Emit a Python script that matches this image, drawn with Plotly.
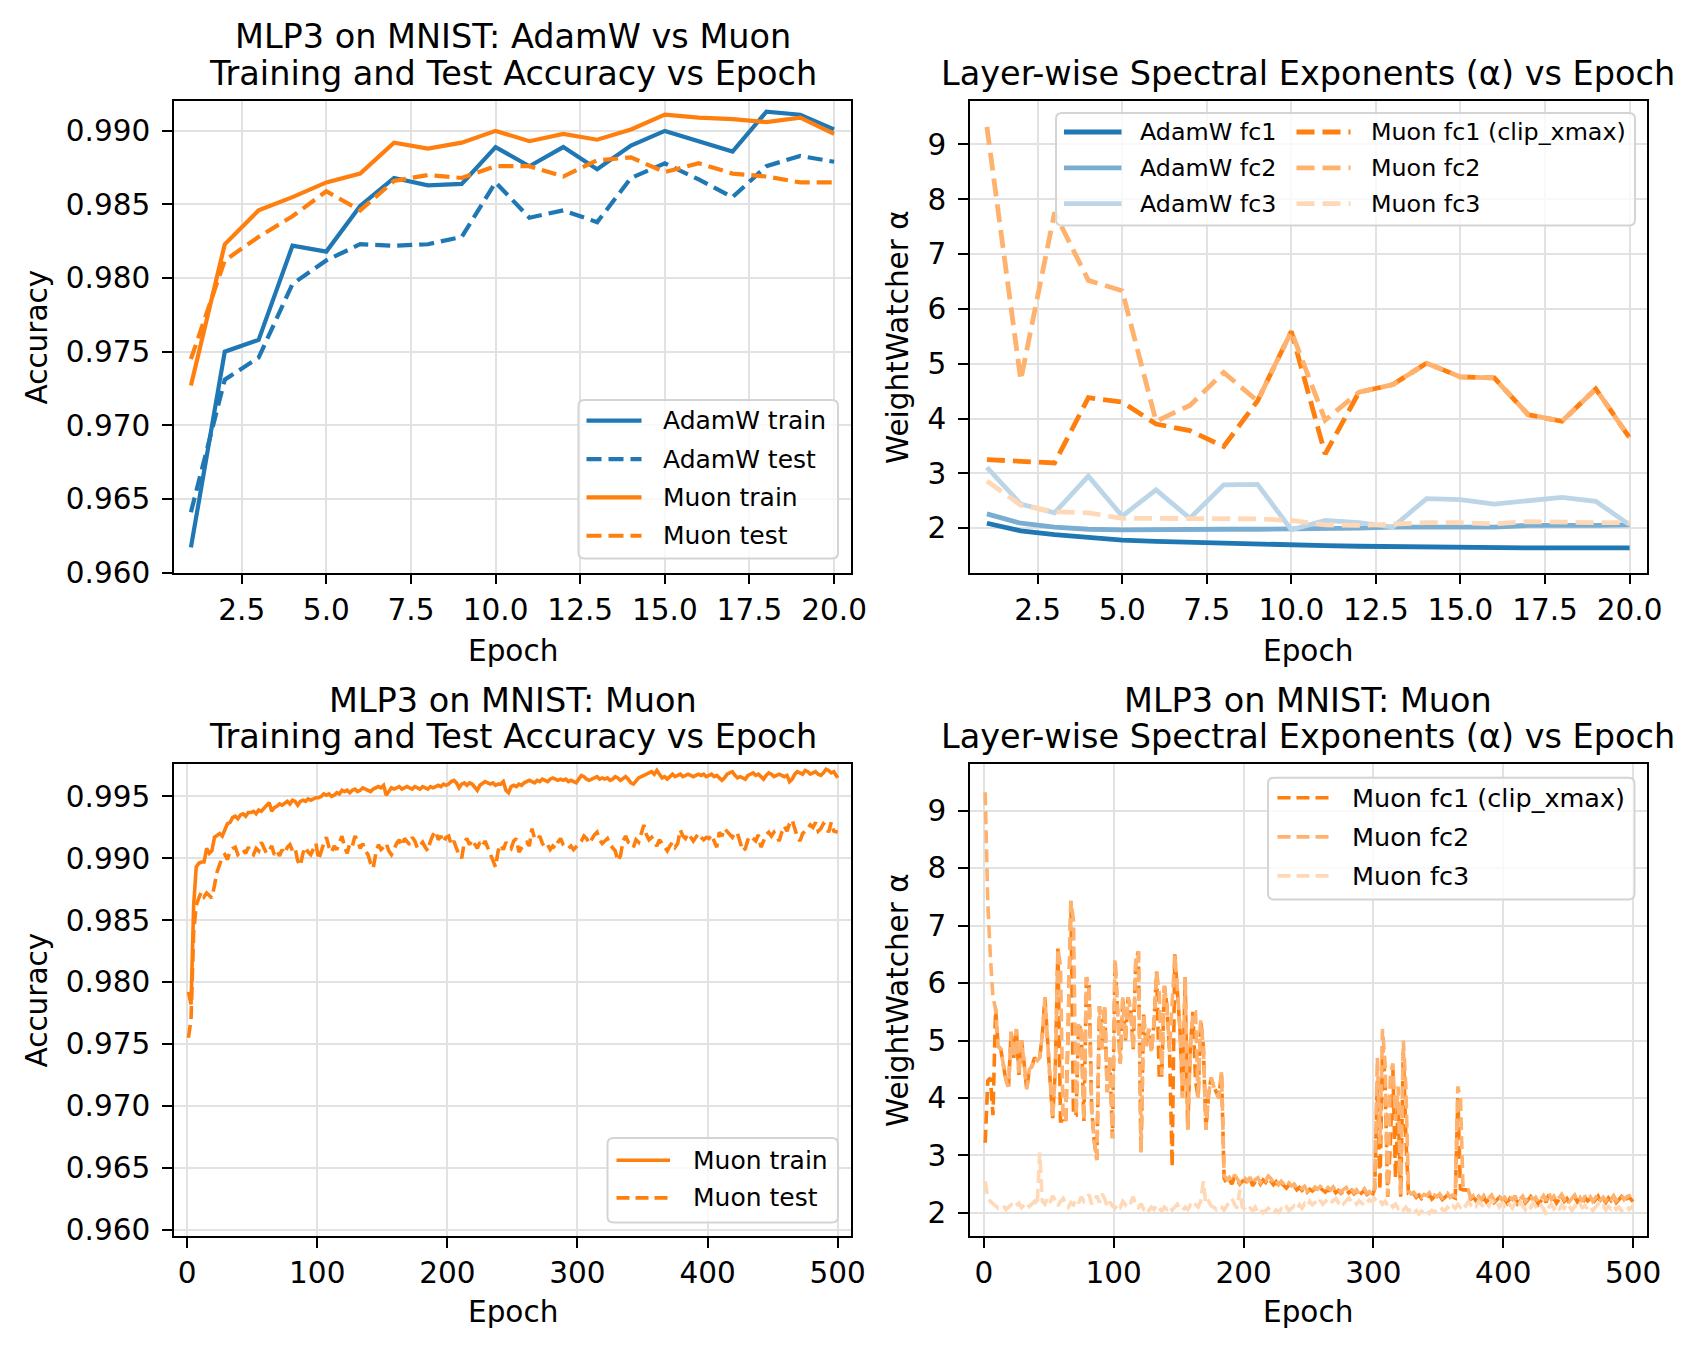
import plotly.graph_objects as go

W, H = 1700, 1352
FONT = "DejaVu Sans"

# ---------------- data: 20-epoch AdamW vs Muon run ----------------
EPOCHS_20 = list(range(1, 21))
ADAMW_TRAIN = [0.9617, 0.9750, 0.9758, 0.9822, 0.9818, 0.9849, 0.9868, 0.9863, 0.9864, 0.9889,
               0.9876, 0.9889, 0.9874, 0.9890, 0.9900, 0.9893, 0.9886, 0.9913, 0.9911, 0.9901]
ADAMW_TEST = [0.9641, 0.9731, 0.9746, 0.9796, 0.9812, 0.9823, 0.9822, 0.9823, 0.9828, 0.9865,
              0.9841, 0.9846, 0.9838, 0.9868, 0.9878, 0.9867, 0.9855, 0.9876, 0.9883, 0.9879]
MUON_TRAIN = [0.9727, 0.9823, 0.9846, 0.9855, 0.9865, 0.9871, 0.9892, 0.9888, 0.9892, 0.9900,
              0.9893, 0.9898, 0.9894, 0.9901, 0.9911, 0.9909, 0.9908, 0.9906, 0.9909, 0.9898]
MUON_TEST = [0.9745, 0.9812, 0.9828, 0.9842, 0.9859, 0.9846, 0.9866, 0.9870, 0.9868, 0.9876,
             0.9876, 0.9869, 0.9880, 0.9882, 0.9872, 0.9878, 0.9871, 0.9869, 0.9865, 0.9865]

ADAMW_FC1 = [2.09, 1.95, 1.88, 1.83, 1.78, 1.76, 1.74, 1.72, 1.70, 1.69,
             1.68, 1.67, 1.66, 1.66, 1.65, 1.64, 1.64, 1.64, 1.64, 1.64]
ADAMW_FC2 = [2.26, 2.09, 2.02, 1.98, 1.97, 1.98, 1.98, 1.98, 1.98, 1.98,
             1.98, 2.00, 2.02, 2.02, 2.04, 2.02, 2.05, 2.04, 2.05, 2.06]
ADAMW_FC3 = [3.11, 2.44, 2.28, 2.95, 2.22, 2.70, 2.18, 2.79, 2.80, 1.97,
             2.14, 2.10, 2.02, 2.54, 2.52, 2.44, 2.50, 2.56, 2.49, 2.06]
MUON_FC1 = [3.25, 3.23, 3.19, 4.38, 4.30, 3.90, 3.78, 3.49, 4.32, 5.59,
            3.35, 4.48, 4.62, 5.01, 4.76, 4.74, 4.07, 3.95, 4.54, 3.65]
MUON_FC2 = [9.32, 4.70, 7.76, 6.52, 6.33, 3.95, 4.24, 4.84, 4.32, 5.59,
            3.97, 4.48, 4.62, 5.01, 4.76, 4.74, 4.07, 3.95, 4.54, 3.65]
MUON_FC3 = [2.86, 2.42, 2.30, 2.28, 2.18, 2.18, 2.16, 2.16, 2.17, 2.14,
            2.06, 2.05, 2.08, 2.10, 2.10, 2.08, 2.12, 2.10, 2.10, 2.10]

# ---------------- data: 500-epoch Muon run (read every 2 epochs) ----------------
EPOCHS_500 = list(range(1, 500, 2)) + [500]
LONG_TRAIN = [
    0.9792, 0.9782, 0.9862, 0.9893, 0.9896, 0.9897, 0.9897, 0.9908, 0.9904, 0.9906,
    0.9917, 0.9919, 0.9920, 0.9918, 0.9924, 0.9928, 0.9929, 0.9933, 0.9934, 0.9932,
    0.9935, 0.9936, 0.9934, 0.9937, 0.9937, 0.9938, 0.9936, 0.9939, 0.9938, 0.9940,
    0.9942, 0.9945, 0.9938, 0.9941, 0.9942, 0.9944, 0.9943, 0.9945, 0.9946, 0.9944,
    0.9947, 0.9946, 0.9943, 0.9946, 0.9947, 0.9946, 0.9948, 0.9947, 0.9948, 0.9949,
    0.9949, 0.9950, 0.9952, 0.9951, 0.9952, 0.9950, 0.9951, 0.9953, 0.9952, 0.9955,
    0.9954, 0.9955, 0.9953, 0.9955, 0.9956, 0.9954, 0.9955, 0.9957, 0.9956, 0.9955,
    0.9954, 0.9956, 0.9957, 0.9958, 0.9957, 0.9959, 0.9951, 0.9954, 0.9957, 0.9956,
    0.9957, 0.9958, 0.9956, 0.9957, 0.9958, 0.9957, 0.9956, 0.9958, 0.9957, 0.9956,
    0.9958, 0.9957, 0.9956, 0.9958, 0.9957, 0.9958, 0.9959, 0.9958, 0.9960, 0.9959,
    0.9960, 0.9962, 0.9963, 0.9961, 0.9957, 0.9960, 0.9961, 0.9959, 0.9961, 0.9960,
    0.9957, 0.9955, 0.9959, 0.9961, 0.9962, 0.9961, 0.9960, 0.9961, 0.9959, 0.9960,
    0.9960, 0.9962, 0.9955, 0.9953, 0.9958, 0.9959, 0.9958, 0.9960, 0.9959, 0.9961,
    0.9962, 0.9963, 0.9962, 0.9961, 0.9963, 0.9962, 0.9964, 0.9963, 0.9962, 0.9964,
    0.9965, 0.9964, 0.9963, 0.9964, 0.9963, 0.9964, 0.9962, 0.9963, 0.9962, 0.9961,
    0.9964, 0.9967, 0.9966, 0.9964, 0.9963, 0.9964, 0.9965, 0.9966, 0.9964, 0.9965,
    0.9964, 0.9965, 0.9963, 0.9964, 0.9966, 0.9965, 0.9963, 0.9965, 0.9966, 0.9964,
    0.9961, 0.9960, 0.9963, 0.9965, 0.9966, 0.9967, 0.9968, 0.9969, 0.9970, 0.9968,
    0.9971, 0.9968, 0.9965, 0.9966, 0.9964, 0.9966, 0.9968, 0.9966, 0.9967, 0.9968,
    0.9966, 0.9967, 0.9968, 0.9967, 0.9966, 0.9967, 0.9968, 0.9967, 0.9968, 0.9966,
    0.9967, 0.9968, 0.9966, 0.9967, 0.9965, 0.9963, 0.9965, 0.9968, 0.9969, 0.9970,
    0.9967, 0.9965, 0.9966, 0.9965, 0.9964, 0.9967, 0.9968, 0.9969, 0.9967, 0.9968,
    0.9966, 0.9964, 0.9967, 0.9969, 0.9968, 0.9966, 0.9967, 0.9968, 0.9967, 0.9966,
    0.9967, 0.9962, 0.9964, 0.9968, 0.9970, 0.9969, 0.9968, 0.9971, 0.9970, 0.9968,
    0.9969, 0.9970, 0.9968, 0.9967, 0.9969, 0.9972, 0.9971, 0.9969, 0.9970, 0.9967,
    0.9965]
LONG_TEST = [
    0.9755, 0.9770, 0.9840, 0.9862, 0.9868, 0.9873, 0.9869, 0.9872, 0.9870, 0.9868,
    0.9878, 0.9889, 0.9895, 0.9901, 0.9903, 0.9899, 0.9906, 0.9908, 0.9909, 0.9903,
    0.9905, 0.9907, 0.9904, 0.9909, 0.9905, 0.9903, 0.9908, 0.9906, 0.9913, 0.9908,
    0.9904, 0.9906, 0.9910, 0.9903, 0.9906, 0.9902, 0.9907, 0.9904, 0.9909, 0.9911,
    0.9906, 0.9908, 0.9898, 0.9894, 0.9904, 0.9909, 0.9905, 0.9903, 0.9908, 0.9912,
    0.9899, 0.9906, 0.9912, 0.9917, 0.9909, 0.9905, 0.9910, 0.9907, 0.9913, 0.9918,
    0.9909, 0.9904, 0.9912, 0.9910, 0.9918, 0.9914, 0.9908, 0.9912, 0.9906, 0.9903,
    0.9896, 0.9892, 0.9904, 0.9911, 0.9907, 0.9909, 0.9912, 0.9906, 0.9903, 0.9908,
    0.9912, 0.9915, 0.9910, 0.9916, 0.9913, 0.9911, 0.9917, 0.9914, 0.9908, 0.9911,
    0.9913, 0.9909, 0.9906, 0.9914, 0.9919, 0.9922, 0.9915, 0.9918, 0.9913, 0.9917,
    0.9918, 0.9911, 0.9914, 0.9908, 0.9903, 0.9900, 0.9913, 0.9916, 0.9911, 0.9915,
    0.9912, 0.9908, 0.9913, 0.9910, 0.9914, 0.9909, 0.9904, 0.9898, 0.9893, 0.9906,
    0.9911, 0.9907, 0.9913, 0.9910, 0.9908, 0.9914, 0.9916, 0.9905, 0.9909, 0.9912,
    0.9913, 0.9910, 0.9924, 0.9916, 0.9915, 0.9918, 0.9912, 0.9909, 0.9911, 0.9907,
    0.9910, 0.9908, 0.9913, 0.9916, 0.9911, 0.9909, 0.9908, 0.9910, 0.9907, 0.9909,
    0.9911, 0.9914, 0.9918, 0.9916, 0.9912, 0.9916, 0.9919, 0.9921, 0.9915, 0.9912,
    0.9914, 0.9916, 0.9911, 0.9909, 0.9906, 0.9898, 0.9902, 0.9914, 0.9918, 0.9913,
    0.9912, 0.9909, 0.9915, 0.9913, 0.9920, 0.9927, 0.9919, 0.9915, 0.9917, 0.9914,
    0.9910, 0.9915, 0.9912, 0.9908, 0.9906, 0.9910, 0.9913, 0.9909, 0.9912, 0.9923,
    0.9918, 0.9916, 0.9920, 0.9917, 0.9914, 0.9917, 0.9920, 0.9917, 0.9915, 0.9917,
    0.9916, 0.9919, 0.9913, 0.9909, 0.9921, 0.9918, 0.9924, 0.9922, 0.9919, 0.9917,
    0.9921, 0.9920, 0.9913, 0.9906, 0.9908, 0.9915, 0.9918, 0.9916, 0.9914, 0.9919,
    0.9909, 0.9914, 0.9919, 0.9921, 0.9918, 0.9921, 0.9917, 0.9914, 0.9921, 0.9926,
    0.9922, 0.9928, 0.9931, 0.9925, 0.9917, 0.9914, 0.9920, 0.9922, 0.9924, 0.9927,
    0.9925, 0.9929, 0.9922, 0.9924, 0.9928, 0.9926, 0.9921, 0.9929, 0.9922, 0.9921,
    0.9921]
LONG_FC1 = [
    3.22, 4.30, 4.35, 3.70, 5.55, 4.90, 4.85, 4.55, 4.30, 4.20,
    5.15, 4.70, 5.20, 4.40, 5.00, 4.60, 4.15, 4.50, 4.55, 4.70,
    4.65, 4.70, 5.10, 5.75, 4.90, 4.30, 3.65, 4.50, 6.60, 3.60,
    3.60, 3.55, 5.30, 7.43, 3.70, 3.70, 5.30, 5.15, 3.60, 6.10,
    5.95, 3.80, 3.25, 2.92, 5.60, 4.85, 5.60, 4.10, 4.70, 3.30,
    6.40, 5.50, 4.60, 5.75, 5.00, 5.75, 5.55, 4.85, 6.40, 6.55,
    3.05, 5.45, 4.90, 5.20, 4.80, 5.30, 6.20, 4.40, 4.40, 5.95,
    5.60, 4.80, 2.80, 6.50, 5.90, 5.20, 4.00, 6.10, 3.45, 4.90,
    5.50, 4.30, 4.00, 5.35, 4.90, 3.45, 4.05, 4.35, 4.20, 4.10,
    4.00, 4.45, 2.60, 2.52, 2.58, 2.50, 2.63, 2.56, 2.50, 2.55,
    2.57, 2.52, 2.60, 2.47, 2.55, 2.58, 2.50, 2.57, 2.53, 2.61,
    2.56, 2.49, 2.54, 2.46, 2.52, 2.47, 2.43, 2.49, 2.44, 2.47,
    2.40, 2.44, 2.39, 2.43, 2.36, 2.41, 2.38, 2.42, 2.38, 2.43,
    2.40, 2.36, 2.41, 2.37, 2.42, 2.35, 2.39, 2.34, 2.38, 2.41,
    2.35, 2.39, 2.33, 2.37, 2.31, 2.35, 2.39, 2.32, 2.35, 2.29,
    2.42, 4.30, 2.40, 4.90, 4.30, 2.28, 3.20, 4.50, 2.60, 3.90,
    2.28, 4.80, 3.30, 2.33, 2.30, 2.33, 2.27, 2.31, 2.25, 2.29,
    2.27, 2.32, 2.24, 2.28, 2.25, 2.30, 2.23, 2.27, 2.31, 2.24,
    2.28, 2.26, 4.00, 2.42, 2.40, 2.40, 2.39, 2.24, 2.27, 2.21,
    2.26, 2.20, 2.27, 2.19, 2.24, 2.28, 2.18, 2.23, 2.27, 2.19,
    2.24, 2.17, 2.25, 2.20, 2.27, 2.16, 2.22, 2.26, 2.17, 2.23,
    2.28, 2.19, 2.24, 2.15, 2.22, 2.27, 2.18, 2.32, 2.21, 2.26,
    2.17, 2.24, 2.29, 2.20, 2.25, 2.17, 2.23, 2.28, 2.19, 2.24,
    2.16, 2.27, 2.21, 2.25, 2.17, 2.23, 2.29, 2.19, 2.24, 2.18,
    2.26, 2.21, 2.27, 2.18, 2.24, 2.28, 2.20, 2.25, 2.27, 2.22,
    2.24]
LONG_FC2 = [
    9.32, 7.40, 6.45, 5.75, 5.55, 4.90, 4.85, 4.55, 4.30, 4.20,
    5.15, 4.70, 5.20, 4.40, 5.00, 4.60, 4.15, 4.50, 4.55, 4.70,
    4.65, 4.70, 5.10, 5.75, 4.90, 4.30, 3.65, 4.50, 6.60, 6.30,
    3.60, 3.62, 5.30, 7.43, 7.10, 3.70, 5.30, 5.15, 3.60, 6.10,
    5.95, 3.80, 3.25, 2.92, 5.60, 4.85, 5.60, 4.10, 4.70, 3.30,
    6.40, 5.50, 4.60, 5.75, 5.00, 5.75, 5.55, 4.85, 6.40, 6.55,
    3.05, 5.45, 4.90, 5.20, 4.80, 5.30, 6.20, 5.85, 4.40, 5.95,
    5.60, 4.80, 5.60, 6.50, 5.90, 5.20, 4.00, 6.10, 3.45, 4.90,
    5.50, 5.50, 4.00, 5.35, 4.90, 3.45, 4.05, 4.35, 4.20, 4.10,
    4.00, 4.45, 2.65, 2.58, 2.62, 2.55, 2.66, 2.60, 2.52, 2.57,
    2.60, 2.55, 2.62, 2.50, 2.58, 2.61, 2.53, 2.60, 2.56, 2.64,
    2.60, 2.52, 2.57, 2.49, 2.55, 2.50, 2.45, 2.52, 2.47, 2.50,
    2.43, 2.47, 2.42, 2.46, 2.38, 2.44, 2.40, 2.45, 2.41, 2.46,
    2.43, 2.39, 2.44, 2.40, 2.45, 2.38, 2.42, 2.36, 2.41, 2.44,
    2.37, 2.42, 2.35, 2.40, 2.33, 2.38, 2.42, 2.34, 2.37, 2.31,
    2.45, 4.70, 3.20, 5.20, 4.60, 2.30, 4.40, 4.60, 3.60, 4.20,
    2.30, 5.00, 4.20, 2.38, 2.33, 2.36, 2.30, 2.34, 2.28, 2.32,
    2.30, 2.35, 2.27, 2.31, 2.28, 2.33, 2.26, 2.30, 2.34, 2.27,
    2.31, 2.29, 4.20, 4.00, 2.42, 2.41, 2.40, 2.26, 2.30, 2.24,
    2.29, 2.23, 2.30, 2.22, 2.27, 2.31, 2.21, 2.26, 2.30, 2.22,
    2.27, 2.20, 2.28, 2.23, 2.30, 2.19, 2.25, 2.29, 2.20, 2.26,
    2.31, 2.22, 2.27, 2.18, 2.25, 2.30, 2.21, 2.35, 2.24, 2.29,
    2.20, 2.27, 2.32, 2.23, 2.28, 2.20, 2.26, 2.31, 2.22, 2.27,
    2.19, 2.30, 2.24, 2.28, 2.20, 2.26, 2.32, 2.22, 2.27, 2.21,
    2.29, 2.24, 2.30, 2.21, 2.27, 2.31, 2.23, 2.28, 2.30, 2.25,
    2.27]
LONG_FC3 = [
    2.55, 2.25, 2.20, 2.15, 2.12, 2.08, 2.10, 2.13, 2.06, 2.10,
    2.14, 2.08, 2.12, 2.17, 2.09, 2.13, 2.18, 2.11, 2.15, 2.20,
    2.12, 3.05, 2.20, 2.15, 2.26, 2.18, 2.30, 2.22, 2.12, 2.20,
    2.25, 2.16, 2.10, 2.18, 2.14, 2.23, 2.17, 2.28, 2.20, 2.25,
    2.32, 2.15, 2.22, 2.30, 2.18, 2.33, 2.25, 2.10, 2.19, 2.12,
    2.08, 2.16, 2.10, 2.20, 2.14, 2.22, 2.18, 2.28, 2.12, 2.09,
    2.16, 2.07, 2.12, 2.04, 2.10, 2.06, 2.14, 2.08, 2.03, 2.10,
    2.06, 2.12, 2.05, 2.10, 2.15, 2.07, 2.04, 2.10, 2.06, 2.13,
    2.08, 2.14, 2.10, 2.20, 2.55, 2.15, 2.20, 2.12, 2.10, 2.06,
    2.12, 2.10, 2.05, 2.12, 2.18, 2.25, 2.15, 2.08, 2.40, 2.10,
    2.06, 2.02, 2.08, 2.04, 2.10, 2.01, 2.06, 2.00, 2.04, 2.08,
    2.03, 1.98, 2.05, 2.01, 2.07, 2.03, 2.10, 2.04, 2.08, 2.12,
    2.06, 2.14, 2.08, 2.16, 2.11, 2.20, 2.14, 2.18, 2.13, 2.22,
    2.15, 2.19, 2.24, 2.17, 2.21, 2.25, 2.18, 2.23, 2.16, 2.20,
    2.26, 2.19, 2.22, 2.15, 2.21, 2.17, 2.12, 2.18, 2.23, 2.20,
    2.25, 2.18, 2.22, 2.15, 2.20, 2.13, 2.18, 2.10, 2.15, 2.08,
    2.12, 2.05, 2.10, 2.03, 2.07, 2.00, 2.04, 1.98, 2.03, 2.00,
    2.05, 1.99, 2.04, 2.01, 2.06, 2.02, 2.07, 2.03, 2.10, 2.05,
    2.12, 2.08, 2.15, 2.10, 2.17, 2.12, 2.20, 2.14, 2.18, 2.12,
    2.20, 2.15, 2.10, 2.17, 2.12, 2.22, 2.15, 2.19, 2.10, 2.16,
    2.12, 2.20, 2.14, 2.08, 2.16, 2.10, 2.18, 2.12, 2.06, 2.14,
    2.09, 2.17, 2.11, 2.05, 2.13, 2.08, 1.97, 2.10, 2.15, 2.07,
    2.12, 2.05, 2.14, 2.08, 2.16, 2.10, 2.04, 2.12, 2.07, 2.15,
    2.09, 2.13, 2.06, 2.11, 2.04, 2.10, 2.15, 2.08, 2.12, 2.05,
    2.11, 2.07, 2.13, 2.06, 2.10, 2.04, 2.09, 2.12, 2.06, 2.10,
    2.08]

# ---------------- tick labels ----------------
X20_TICKS = [2.5, 5.0, 7.5, 10.0, 12.5, 15.0, 17.5, 20.0]
X500_TICKS = [0, 100, 200, 300, 400, 500]
ACC_TICKS_TOP = [0.960, 0.965, 0.970, 0.975, 0.980, 0.985, 0.990]
ACC_TICKS_BOT = [0.960, 0.965, 0.970, 0.975, 0.980, 0.985, 0.990, 0.995]
ALPHA_TICKS = [2, 3, 4, 5, 6, 7, 8, 9]

BLUE = "#1f77b4"
ORANGE = "#ff7f0e"


def blend(hexc, a):
    """Colour as drawn with opacity a on a white background."""
    h = hexc.lstrip("#")
    r, g, b = int(h[0:2], 16), int(h[2:4], 16), int(h[4:6], 16)
    r, g, b = (round(a * v + (1 - a) * 255) for v in (r, g, b))
    return f"#{r:02x}{g:02x}{b:02x}"


BLUE_2, BLUE_3 = blend(BLUE, 0.6), blend(BLUE, 0.3)
ORANGE_2, ORANGE_3 = blend(ORANGE, 0.6), blend(ORANGE, 0.3)


def px(x):
    return x / W


def py(y):
    return 1 - y / H


# axes boxes in pixels: (x0, x1, ytop, ybottom)
BOX = {
    1: (174.0, 851.0, 101.0, 572.5),
    2: (970.0, 1646.5, 101.0, 572.5),
    3: (174.0, 851.0, 764.4, 1236.0),
    4: (970.0, 1646.5, 764.4, 1236.0),
}

W_TOP = 4.2
W_TR = 4.8
W_BOT = 3.6
DASH_TOP = "15px,7px"
DASH_TR = "18px,8px"
DASH_BOT = "13px,6px"

fig = go.Figure()


def add(xs, ys, n, color, width, dash="solid"):
    ax = "" if n == 1 else str(n)
    fig.add_trace(go.Scatter(x=xs, y=ys, mode="lines", xaxis="x" + ax, yaxis="y" + ax,
                             line=dict(color=color, width=width, dash=dash),
                             showlegend=False, hoverinfo="skip"))


# panel 1
add(EPOCHS_20, ADAMW_TRAIN, 1, BLUE, W_TOP)
add(EPOCHS_20, ADAMW_TEST, 1, BLUE, W_TOP, DASH_TOP)
add(EPOCHS_20, MUON_TRAIN, 1, ORANGE, W_TOP)
add(EPOCHS_20, MUON_TEST, 1, ORANGE, W_TOP, DASH_TOP)
# panel 2
add(EPOCHS_20, ADAMW_FC1, 2, BLUE, W_TR)
add(EPOCHS_20, ADAMW_FC2, 2, BLUE_2, W_TR)
add(EPOCHS_20, ADAMW_FC3, 2, BLUE_3, W_TR)
add(EPOCHS_20, MUON_FC1, 2, ORANGE, W_TR, DASH_TR)
add(EPOCHS_20, MUON_FC2, 2, ORANGE_2, W_TR, DASH_TR)
add(EPOCHS_20, MUON_FC3, 2, ORANGE_3, W_TR, DASH_TR)
# panel 3
add(EPOCHS_500, LONG_TRAIN, 3, ORANGE, W_BOT)
add(EPOCHS_500, LONG_TEST, 3, ORANGE, W_BOT, DASH_BOT)
# panel 4
add(EPOCHS_500, LONG_FC1, 4, ORANGE, W_BOT, DASH_BOT)
add(EPOCHS_500, LONG_FC2, 4, ORANGE_2, W_BOT, DASH_BOT)
add(EPOCHS_500, LONG_FC3, 4, ORANGE_3, W_BOT, DASH_BOT)

TICKFONT = dict(family=FONT, size=29.5, color="black")
common = dict(showline=True, mirror=True, linecolor="black", linewidth=2.2,
              ticks="outside", ticklen=9.7, tickwidth=2.2, tickcolor="black",
              showgrid=True, gridcolor="#e2e2e2", gridwidth=2.0, zeroline=False,
              tickfont=TICKFONT, automargin=False, fixedrange=True)

ranges = {
    1: ((0.5, 20.5), (0.960, 0.99203)),
    2: ((0.5, 20.5), (1.191, 9.793)),
    3: ((-10.1, 510.2), (0.95948, 0.99759)),
    4: ((-10.7, 510.3), (1.597, 9.806)),
}
xticks = {1: X20_TICKS, 2: X20_TICKS, 3: X500_TICKS, 4: X500_TICKS}
yticks = {1: ACC_TICKS_TOP, 2: ALPHA_TICKS, 3: ACC_TICKS_BOT, 4: ALPHA_TICKS}

layout = dict(width=W, height=H, margin=dict(l=0, r=0, t=0, b=0),
              paper_bgcolor="white", plot_bgcolor="white", showlegend=False,
              font=dict(family=FONT, color="black"))
for n in range(1, 5):
    x0, x1, yt, yb = BOX[n]
    sfx = "" if n == 1 else str(n)
    xr, yr = ranges[n]
    xt = xticks[n]
    yt_ = yticks[n]
    if n in (1, 2):
        xtt = [f"{v:.1f}" for v in xt]
    else:
        xtt = [str(v) for v in xt]
    if n in (1, 3):
        ytt = [f"{v:.3f}" for v in yt_]
    else:
        ytt = [str(v) for v in yt_]
    layout["xaxis" + sfx] = dict(common, domain=[px(x0), px(x1)], range=list(xr),
                                 tickmode="array", tickvals=xt, ticktext=xtt,
                                 anchor="y" + sfx)
    layout["yaxis" + sfx] = dict(common, domain=[py(yb), py(yt)], range=list(yr),
                                 tickmode="array", tickvals=yt_, ticktext=ytt,
                                 anchor="x" + sfx, ticklabelstandoff=6)
fig.update_layout(**layout)

annotations = []
shapes = []


def text(x, y, s, size, xanchor="center", angle=0):
    annotations.append(dict(x=px(x), y=py(y), xref="paper", yref="paper", text=s,
                            showarrow=False, xanchor=xanchor, yanchor="middle",
                            textangle=angle, font=dict(family=FONT, size=size, color="black")))


TITLE = 33.5
# subplot titles
text(512.5, 36.8, "MLP3 on MNIST: AdamW vs Muon", TITLE)
text(512.5, 73.5, "Training and Test Accuracy vs Epoch", TITLE)
text(1308.0, 73.5, "Layer-wise Spectral Exponents (α) vs Epoch", TITLE)
text(512.5, 700.0, "MLP3 on MNIST: Muon", TITLE)
text(512.5, 736.5, "Training and Test Accuracy vs Epoch", TITLE)
text(1308.0, 700.0, "MLP3 on MNIST: Muon", TITLE)
text(1308.0, 736.5, "Layer-wise Spectral Exponents (α) vs Epoch", TITLE)

# axis titles
LAB = 29.5
text(512.5, 650.7, "Epoch", LAB)
text(1308.0, 650.7, "Epoch", LAB)
text(512.5, 1312.0, "Epoch", LAB)
text(1308.0, 1312.0, "Epoch", LAB)
text(36.5, 337.0, "Accuracy", LAB, angle=-90)
text(36.5, 1000.0, "Accuracy", LAB, angle=-90)
text(898.0, 337.0, "WeightWatcher α", LAB, angle=-90)
text(898.0, 1000.0, "WeightWatcher α", LAB, angle=-90)


def rounded_box(x0, y0, x1, y1, r=6):
    pts = [
        ("M", (x0 + r, y0)), ("L", (x1 - r, y0)), ("Q", (x1, y0), (x1, y0 + r)),
        ("L", (x1, y1 - r)), ("Q", (x1, y1), (x1 - r, y1)), ("L", (x0 + r, y1)),
        ("Q", (x0, y1), (x0, y1 - r)), ("L", (x0, y0 + r)), ("Q", (x0, y0), (x0 + r, y0)),
    ]
    path = ""
    for item in pts:
        cmd = item[0]
        coords = " ".join(f"{px(a):.5f},{py(b):.5f}" for a, b in item[1:])
        path += f"{cmd}{coords} "
    path += "Z"
    shapes.append(dict(type="path", path=path, xref="paper", yref="paper",
                       fillcolor="rgba(255,255,255,0.8)",
                       line=dict(color="#d4d4d4", width=2), layer="above"))


def legend_entry(hx0, hx1, yc, tx, label, color, width, dash, size):
    shapes.append(dict(type="line", xref="paper", yref="paper", x0=px(hx0), x1=px(hx1),
                       y0=py(yc), y1=py(yc), line=dict(color=color, width=width, dash=dash),
                       layer="above"))
    text(tx, yc, label, size, xanchor="left")


# legend panel 1
rounded_box(578.5, 400.0, 838.0, 558.5)
rows1 = [("AdamW train", BLUE, "solid"), ("AdamW test", BLUE, DASH_TOP),
         ("Muon train", ORANGE, "solid"), ("Muon test", ORANGE, DASH_TOP)]
for i, (lab, c, d) in enumerate(rows1):
    legend_entry(586.5, 641.5, 420.7 + i * 38.35, 660.5, lab, c, W_TOP, d, 25)

# legend panel 2 (two columns)
rounded_box(1056.0, 113.0, 1635.0, 225.5)
col1 = [("AdamW fc1", BLUE), ("AdamW fc2", BLUE_2), ("AdamW fc3", BLUE_3)]
col2 = [("Muon fc1 (clip_xmax)", ORANGE), ("Muon fc2", ORANGE_2), ("Muon fc3", ORANGE_3)]
for i, (lab, c) in enumerate(col1):
    legend_entry(1064.0, 1121.5, 132.0 + i * 35.8, 1137.5, lab, c, W_TR, "solid", 23.8)
for i, (lab, c) in enumerate(col2):
    legend_entry(1296.5, 1350.5, 132.0 + i * 35.8, 1369.0, lab, c, W_TR, DASH_TR, 23.8)

# legend panel 3
rounded_box(607.5, 1138.0, 838.0, 1222.5)
rows3 = [("Muon train", ORANGE, "solid"), ("Muon test", ORANGE, DASH_BOT)]
for i, (lab, c, d) in enumerate(rows3):
    legend_entry(616.5, 670.0, 1160.2 + i * 37.7, 690.8, lab, c, W_BOT, d, 25)

# legend panel 4
rounded_box(1268.0, 777.7, 1634.5, 899.5)
rows4 = [("Muon fc1 (clip_xmax)", ORANGE), ("Muon fc2", ORANGE_2), ("Muon fc3", ORANGE_3)]
for i, (lab, c) in enumerate(rows4):
    legend_entry(1277.5, 1329.0, 797.8 + i * 39.05, 1350.3, lab, c, W_BOT, DASH_BOT, 25.5)

fig.update_layout(annotations=annotations, shapes=shapes)
fig.write_html("out.html")
